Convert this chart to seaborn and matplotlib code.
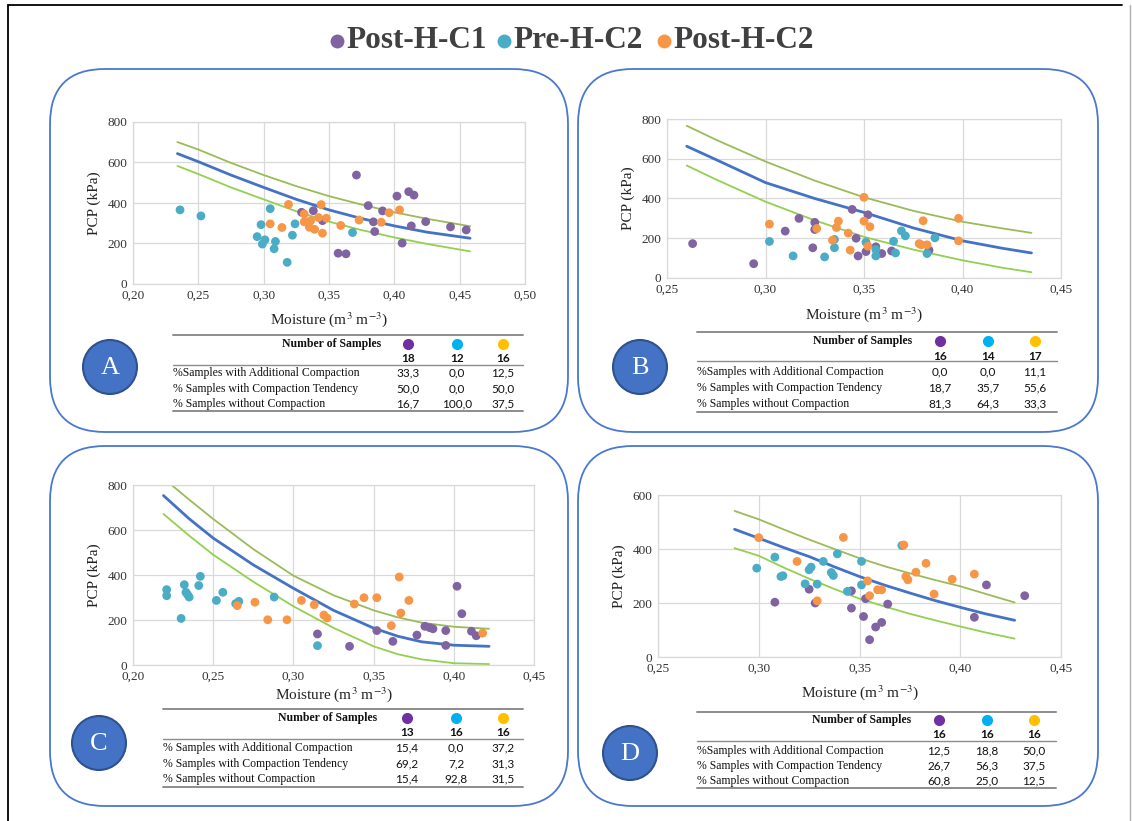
import matplotlib
matplotlib.use('Agg')
import numpy as np
import pandas as pd
import matplotlib.pyplot as plt
import seaborn as sns
from matplotlib.patches import FancyBboxPatch, Circle
from matplotlib.ticker import FuncFormatter, MultipleLocator

# ---------------- data ----------------
GROUPS = ['Post-H-C1', 'Pre-H-C2', 'Post-H-C2']

# Panel A
A_C1_X = [0.329, 0.338, 0.345, 0.357, 0.363, 0.371, 0.380, 0.384, 0.385, 0.391, 0.402, 0.406, 0.411, 0.413, 0.415, 0.424, 0.443, 0.455]
A_C1_Y = [354, 362, 313, 152, 149, 538, 387, 307, 259, 361, 434, 202, 456, 287, 439, 308, 282, 267]
A_PRE_X = [0.236, 0.252, 0.295, 0.298, 0.299, 0.301, 0.305, 0.308, 0.309, 0.318, 0.322, 0.324, 0.368]
A_PRE_Y = [366, 336, 234, 293, 197, 218, 372, 174, 210, 107, 241, 297, 254]
A_C2_X = [0.305, 0.314, 0.319, 0.331, 0.331, 0.335, 0.336, 0.339, 0.342, 0.344, 0.345, 0.348, 0.359, 0.373, 0.390, 0.396, 0.404]
A_C2_Y = [297, 279, 393, 346, 307, 280, 313, 270, 328, 392, 251, 325, 289, 316, 305, 352, 366]
A_CURVE_X = [0.234, 0.25, 0.275, 0.30, 0.325, 0.35, 0.375, 0.40, 0.425, 0.458]
A_BLUE = [644, 604, 538, 477, 418, 366, 323, 287, 256, 226]
A_UPPER = [701, 664, 598, 538, 483, 434, 392, 354, 322, 285]
A_LOWER = [583, 543, 477, 418, 359, 308, 266, 230, 198, 161]

# Panel B
B_C1_X = [0.263, 0.294, 0.310, 0.317, 0.325, 0.325, 0.324, 0.344, 0.346, 0.347, 0.352, 0.351, 0.356, 0.359, 0.364, 0.383]
B_C1_Y = [173, 72, 236, 300, 280, 244, 152, 345, 200, 111, 318, 133, 157, 123, 136, 140]
B_PRE_X = [0.302, 0.314, 0.330, 0.335, 0.335, 0.351, 0.356, 0.356, 0.365, 0.366, 0.369, 0.371, 0.386, 0.382]
B_PRE_Y = [184, 111, 106, 152, 194, 180, 143, 111, 185, 126, 237, 212, 202, 123]
B_C2_X = [0.302, 0.326, 0.334, 0.336, 0.337, 0.342, 0.343, 0.350, 0.350, 0.353, 0.352, 0.378, 0.379, 0.380, 0.382, 0.398, 0.398]
B_C2_Y = [271, 249, 190, 254, 286, 226, 140, 406, 286, 258, 160, 173, 167, 288, 167, 300, 187]
B_CURVE_X = [0.260, 0.275, 0.30, 0.325, 0.35, 0.375, 0.40, 0.42, 0.435]
B_BLUE = [663, 595, 480, 400, 330, 252, 187, 150, 126]
B_UPPER = [766, 695, 586, 490, 406, 338, 283, 250, 227]
B_LOWER = [566, 495, 384, 290, 207, 143, 89, 52, 29]

# Panel C
C_C1_X = [0.315, 0.335, 0.352, 0.362, 0.377, 0.382, 0.385, 0.387, 0.395, 0.395, 0.402, 0.405, 0.411, 0.414]
C_C1_Y = [138, 83, 153, 105, 133, 172, 166, 161, 153, 87, 350, 228, 150, 130]
C_PRE_X = [0.221, 0.221, 0.230, 0.232, 0.233, 0.234, 0.235, 0.241, 0.242, 0.252, 0.256, 0.264, 0.266, 0.288, 0.315]
C_PRE_Y = [335, 308, 207, 357, 323, 313, 302, 353, 394, 287, 323, 273, 283, 302, 86]
C_C2_X = [0.265, 0.276, 0.284, 0.296, 0.305, 0.313, 0.319, 0.321, 0.338, 0.344, 0.352, 0.361, 0.366, 0.367, 0.372, 0.418]
C_C2_Y = [264, 279, 201, 201, 287, 268, 222, 209, 271, 299, 299, 175, 391, 231, 287, 142]
C_CURVE_X = [0.219, 0.235, 0.25, 0.275, 0.30, 0.325, 0.35, 0.365, 0.38, 0.40, 0.422]
C_BLUE = [753, 650, 564, 445, 341, 243, 164, 128, 103, 88, 83]
C_UPPER = [830, 735, 649, 515, 397, 310, 243, 212, 188, 170, 161]
C_LOWER = [671, 575, 490, 370, 261, 165, 83, 48, 25, 8, 4]

# Panel D
D_C1_X = [0.308, 0.325, 0.328, 0.346, 0.346, 0.352, 0.353, 0.355, 0.358, 0.361, 0.364, 0.407, 0.413, 0.432]
D_C1_Y = [203, 251, 200, 245, 181, 150, 216, 64, 111, 128, 196, 147, 267, 227]
D_PRE_X = [0.299, 0.308, 0.311, 0.312, 0.323, 0.325, 0.326, 0.329, 0.332, 0.336, 0.337, 0.339, 0.344, 0.351, 0.351, 0.371]
D_PRE_Y = [329, 370, 298, 301, 271, 323, 333, 270, 354, 313, 302, 382, 243, 354, 267, 413]
D_C2_X = [0.300, 0.319, 0.329, 0.342, 0.354, 0.355, 0.359, 0.361, 0.372, 0.373, 0.374, 0.378, 0.383, 0.387, 0.396, 0.407]
D_C2_Y = [442, 354, 208, 443, 282, 227, 249, 249, 415, 298, 286, 314, 347, 233, 288, 307]
D_CURVE_X = [0.288, 0.30, 0.3125, 0.325, 0.3375, 0.35, 0.3625, 0.375, 0.3875, 0.40, 0.4125, 0.427]
D_BLUE = [473, 440, 405, 372, 334, 298, 266, 237, 209, 184, 160, 136]
D_UPPER = [541, 510, 472, 435, 400, 366, 336, 310, 285, 262, 234, 202]
D_LOWER = [403, 375, 331, 290, 252, 216, 187, 160, 136, 113, 91, 68]

# Tables
ROW_LABELS_ABD = ['%Samples with Additional Compaction', '% Samples with Compaction Tendency', '% Samples without Compaction']
ROW_LABELS_C = ['% Samples with Additional Compaction', '% Samples with Compaction Tendency', '% Samples without Compaction']
A_N = ['18', '12', '16']
A_VALS = [['33,3', '0,0', '12,5'], ['50,0', '0,0', '50,0'], ['16,7', '100,0', '37,5']]
B_N = ['16', '14', '17']
B_VALS = [['0,0', '0,0', '11,1'], ['18,7', '35,7', '55,6'], ['81,3', '64,3', '33,3']]
C_N = ['13', '16', '16']
C_VALS = [['15,4', '0,0', '37,2'], ['69,2', '7,2', '31,3'], ['15,4', '92,8', '31,5']]
D_N = ['16', '16', '16']
D_VALS = [['12,5', '18,8', '50,0'], ['26,7', '56,3', '37,5'], ['60,8', '25,0', '12,5']]

# ---------------- style ----------------
PAL = {'Post-H-C1': '#8064A2', 'Pre-H-C2': '#4BACC6', 'Post-H-C2': '#F79646'}
TABLE_DOTS = ['#7030A0', '#00B0F0', '#FFC000']
BLUE = '#4472C4'
GREEN_UP = '#9BBB59'
GREEN_LO = '#92D050'
BOX_EDGE = '#4A78D0'

sns.set_theme(style='white')
plt.rcParams['font.family'] = ['Liberation Serif', 'DejaVu Serif']
plt.rcParams['mathtext.fontset'] = 'stix'

W, H = 1132, 821
fig = plt.figure(figsize=(W / 100, H / 100), dpi=100)
bg = fig.add_axes([0, 0, 1, 1])
bg.set_xlim(0, W)
bg.set_ylim(H, 0)
bg.axis('off')

# outer frame
bg.plot([8, 8], [5, H], color='black', lw=1.3)
bg.plot([8, 1122], [5, 5], color='black', lw=1.3)
bg.plot([1130, 1130], [5, H], color='#b0b0b0', lw=1.0)

# rounded boxes
for (x0, y0, x1, y1) in [(50, 69, 568, 432), (578, 69, 1098, 432),
                         (50, 446, 568, 806), (578, 446, 1098, 806)]:
    bg.add_patch(FancyBboxPatch((x0, y0), x1 - x0, y1 - y0,
                                boxstyle='round,pad=0,rounding_size=55',
                                fc='white', ec=BOX_EDGE, lw=1.3))

# top legend
for mx, name in zip([337, 504, 664], GROUPS):
    bg.plot([mx], [41], marker='o', ms=10, color=PAL[name], mec='none')
    bg.text(mx + 9, 41, name, fontsize=22.5, fontweight='bold', color='#404040',
            va='center', ha='left')


def px_axes(l, t, r, b):
    return fig.add_axes([l / W, 1 - b / H, (r - l) / W, (b - t) / H])


def comma(v, pos):
    return f'{v:.2f}'.replace('.', ',')


def panel(box, xs, ys, xlim, ylim, cx, blue, upper, lower, xpad):
    ax = px_axes(*box)
    frames = []
    for g, x, y in zip(GROUPS, xs, ys):
        frames.append(pd.DataFrame({'x': x, 'y': y, 'group': g}))
    df = pd.concat(frames, ignore_index=True)
    sns.lineplot(x=cx, y=upper, ax=ax, color=GREEN_UP, lw=1.3, estimator=None, sort=False, zorder=2)
    sns.lineplot(x=cx, y=lower, ax=ax, color=GREEN_LO, lw=1.3, estimator=None, sort=False, zorder=2)
    sns.lineplot(x=cx, y=blue, ax=ax, color=BLUE, lw=2.0, estimator=None, sort=False, zorder=2)
    sns.scatterplot(data=df, x='x', y='y', hue='group', palette=PAL, hue_order=GROUPS,
                    s=40, edgecolor='none', legend=False, ax=ax, zorder=3)
    ax.set_xlim(*xlim)
    ax.set_ylim(*ylim)
    ax.xaxis.set_major_locator(MultipleLocator(0.05))
    ax.yaxis.set_major_locator(MultipleLocator(200))
    ax.xaxis.set_major_formatter(FuncFormatter(comma))
    ax.grid(True, color='#d9d9d9', lw=0.9)
    ax.set_axisbelow(True)
    for s in ax.spines.values():
        s.set_color('#d9d9d9')
        s.set_linewidth(0.9)
    ax.tick_params(length=0, labelsize=9.5, colors='#333333', pad=4)
    ax.set_xlabel(r'Moisture (m$^{3}$ m$^{-3}$)', fontsize=11, color='#222222', labelpad=xpad)
    ax.set_ylabel('PCP (kPa)', fontsize=11, color='#222222', labelpad=5)
    return ax


panel((133, 122, 525, 284), [A_C1_X, A_PRE_X, A_C2_X], [A_C1_Y, A_PRE_Y, A_C2_Y],
      (0.20, 0.50), (0, 800), A_CURVE_X, A_BLUE, A_UPPER, A_LOWER, 6)
panel((667, 119, 1061, 278), [B_C1_X, B_PRE_X, B_C2_X], [B_C1_Y, B_PRE_Y, B_C2_Y],
      (0.25, 0.45), (0, 800), B_CURVE_X, B_BLUE, B_UPPER, B_LOWER, 7)
panel((133, 485, 534, 665), [C_C1_X, C_PRE_X, C_C2_X], [C_C1_Y, C_PRE_Y, C_C2_Y],
      (0.20, 0.45), (0, 800), C_CURVE_X, C_BLUE, C_UPPER, C_LOWER, 1.5)
panel((658, 495, 1061, 657), [D_C1_X, D_PRE_X, D_C2_X], [D_C1_Y, D_PRE_Y, D_C2_Y],
      (0.25, 0.45), (0, 600), D_CURVE_X, D_BLUE, D_UPPER, D_LOWER, 6)


def table(x0, x1, ytop, yhead, ynum, yline, rows_y, ybot, xhead, cols, nums, labels, vals):
    bg.plot([x0, x1], [ytop, ytop], color='#8c8c8c', lw=1.4)
    bg.plot([x0, x1], [yline, yline], color='#8c8c8c', lw=1.0)
    bg.plot([x0, x1], [ybot, ybot], color='#8c8c8c', lw=1.4)
    bg.text(xhead, yhead, 'Number of Samples', fontsize=8.5, fontweight='bold',
            ha='right', va='center', color='#111111')
    for cxp, col, n in zip(cols, TABLE_DOTS, nums):
        bg.plot([cxp], [yhead], marker='o', ms=8, color=col, mec='none')
        bg.text(cxp, ynum, n, fontsize=8.5, fontweight='bold', family='Lato',
                ha='center', va='center', color='#111111')
    for ry, lab, row in zip(rows_y, labels, vals):
        bg.text(x0, ry, lab, fontsize=8.5, ha='left', va='center', color='#111111')
        for cxp, v in zip(cols, row):
            bg.text(cxp, ry, v, fontsize=8.5, family='Lato', ha='center', va='center',
                    color='#111111')


table(173, 523, 335, 344, 359, 365, [373, 389, 404], 411, 381, [408, 457, 503],
      A_N, ROW_LABELS_ABD, A_VALS)
table(697, 1057, 332, 341, 356, 361, [372, 388, 404], 412, 912, [940, 988, 1035],
      B_N, ROW_LABELS_ABD, B_VALS)
table(163, 523, 709, 718, 733, 739, [748, 764, 779], 787, 377, [407, 456, 503],
      C_N, ROW_LABELS_C, C_VALS)
table(697, 1056, 712, 720, 734, 741, [751, 766, 781], 788, 911, [939, 987, 1034],
      D_N, ROW_LABELS_ABD, D_VALS)

# panel letters
for (cxp, cyp, letter) in [(110, 367, 'A'), (640, 367, 'B'), (99, 743, 'C'), (630, 753, 'D')]:
    bg.add_patch(Circle((cxp, cyp), 27, fc='#4472C4', ec='#2F528F', lw=1.5))
    bg.text(cxp, cyp + 1, letter, fontsize=19, color='white', ha='center', va='center')

fig.savefig('out.png', dpi=100)
